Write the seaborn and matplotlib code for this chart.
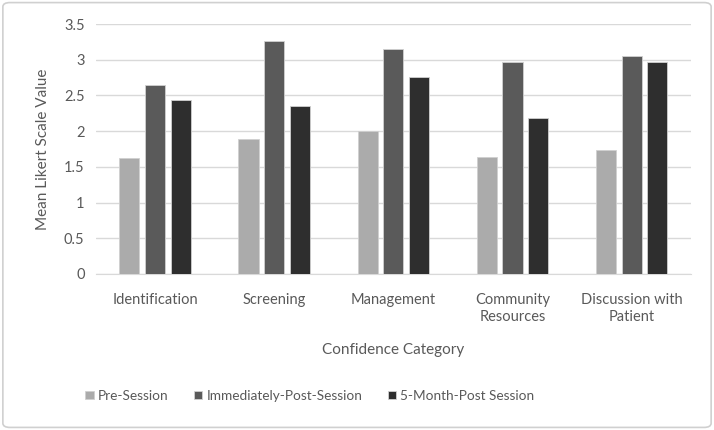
import pandas as pd
import matplotlib.pyplot as plt
import seaborn as sns
from matplotlib.patches import FancyBboxPatch

# values
categories = ['Identification', 'Screening', 'Management', 'Community\nResources', 'Discussion with\nPatient']
sessions = ['Pre-Session', 'Immediately-Post-Session', '5-Month-Post Session']
pre_session = [1.62, 1.89, 2.00, 1.64, 1.74]
immediately_post = [2.65, 3.26, 3.15, 2.97, 3.05]
five_month_post = [2.43, 2.35, 2.76, 2.18, 2.97]
colors = ['#ababab', '#5a5a5a', '#2e2e2e']

df = pd.DataFrame({
    'Category': categories * 3,
    'Session': [s for s in sessions for _ in categories],
    'Value': pre_session + immediately_post + five_month_post,
})

sns.set_style('white')
plt.rcParams['font.family'] = ['Lato', 'DejaVu Sans']
txt = '#595959'

fig = plt.figure(figsize=(7.14, 4.3), dpi=100)
ax = fig.add_axes([0.134, 0.363, 0.834, 0.581])

sns.barplot(data=df, x='Category', y='Value', hue='Session', palette=colors,
            width=0.65, gap=0.22, edgecolor='#d0d0d0', linewidth=0.6, ax=ax,
            zorder=3)

ax.set_ylim(0, 3.5)
ax.set_yticks([0, 0.5, 1, 1.5, 2, 2.5, 3, 3.5])
ax.set_yticklabels(['0', '0.5', '1', '1.5', '2', '2.5', '3', '3.5'])
ax.yaxis.grid(True, color='#d9d9d9', linewidth=1, zorder=0)
ax.set_axisbelow(True)
for s in ['top', 'right', 'left']:
    ax.spines[s].set_visible(False)
ax.spines['bottom'].set_color('#d9d9d9')
ax.tick_params(axis='both', length=0, colors=txt, labelsize=10.5)
ax.tick_params(axis='x', pad=14)
ax.tick_params(axis='y', pad=8)
ax.set_xlabel('Confidence Category', color=txt, fontsize=11, labelpad=14)
ax.set_ylabel('Mean Likert Scale Value', color=txt, fontsize=11, labelpad=10)

ax.legend(loc='upper center', bbox_to_anchor=(0.36, -0.415), ncol=3, frameon=False,
          fontsize=9.8, handlelength=0.6, handleheight=0.6, handletextpad=0.3,
          columnspacing=1.9, labelcolor=txt)

border = FancyBboxPatch((0.004, 0.006), 0.992, 0.988, boxstyle='round,pad=0,rounding_size=0.01',
                        transform=fig.transFigure, fill=False, edgecolor='#d0d0d0', linewidth=1.2)
fig.patches.append(border)

fig.savefig('out.png', dpi=100)
